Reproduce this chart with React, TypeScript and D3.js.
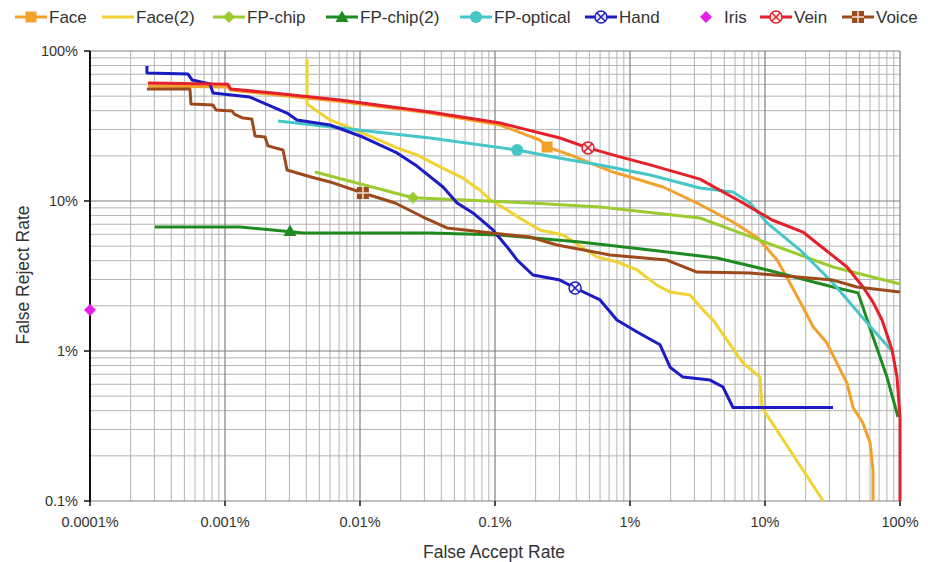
import React from 'react';
import * as d3 from 'd3';

type Pt = [number, number];

// FAR %, FRR %
const face: Pt[] = [[0.00027, 58.4], [0.00105, 57.5], [0.0011, 55], [0.0071, 46], [0.033, 38.6], [0.109, 32.1], [0.215, 25.5], [0.243, 22.9], [0.36, 20.3], [0.75, 15.6], [1.76, 12.4], [3.13, 9.7], [5.79, 7.24], [8.87, 5.67], [12.3, 4.04], [15.3, 2.84], [19.1, 1.96], [22.7, 1.45], [28.8, 1.13], [34.1, 0.83], [40.5, 0.61], [44.9, 0.42], [53.2, 0.33], [60, 0.244], [63.1, 0.161], [63.1, 0.1]];
const face2: Pt[] = [[0.00405, 88.5], [0.00405, 44.3], [0.006, 34.7], [0.0105, 28.4], [0.0188, 22.6], [0.0264, 20.3], [0.0392, 16.9], [0.058, 14.2], [0.0774, 11.8], [0.0918, 10.2], [0.123, 8.7], [0.161, 7.47], [0.215, 6.41], [0.319, 5.93], [0.449, 4.86], [0.57, 4.24], [0.8, 3.92], [1.13, 3.47], [1.58, 2.75], [1.98, 2.47], [2.78, 2.36], [3.47, 1.88], [4.12, 1.61], [5.23, 1.18], [6.88, 0.83], [9.18, 0.67], [9.5, 0.42], [27, 0.1]];
const fpChip: Pt[] = [[0.00464, 15.6], [0.0247, 10.5], [0.182, 9.7], [0.6, 9.12], [3.3, 7.7], [10.4, 5.25], [31.9, 3.63], [100, 2.8]];
const fpChip2: Pt[] = [[0.000303, 6.71], [0.00129, 6.71], [0.00269, 6.31], [0.00378, 6.12], [0.033, 6.12], [0.109, 5.93], [0.427, 5.33], [1.41, 4.71], [4.41, 4.17], [10.4, 3.47], [31.9, 2.67], [48.9, 2.44], [63.1, 1.24], [80.1, 0.67], [96.7, 0.363]];
const fpOptical: Pt[] = [[0.00247, 34.1], [0.033, 26.3], [0.146, 21.9], [0.303, 19.3], [0.6, 17.4], [1.41, 14.9], [3.3, 12.2], [5.79, 11.5], [7.74, 9.7], [10.4, 7.13], [18.2, 4.71], [31.9, 2.84], [57, 1.54], [88.8, 0.98]];
const hand: Pt[] = [[0.000264, 79.4], [0.000264, 71.3], [0.000532, 70.2], [0.00057, 64.1], [0.000774, 60.3], [0.000815, 52.5], [0.00153, 49.3], [0.00227, 42.3], [0.00288, 38.6], [0.00341, 34.7], [0.006, 32.1], [0.0105, 26.7], [0.0188, 20.9], [0.0264, 17.1], [0.0412, 12.4], [0.0524, 9.7], [0.0687, 8.32], [0.0966, 6.41], [0.123, 4.94], [0.146, 4.04], [0.191, 3.21], [0.303, 2.97], [0.392, 2.63], [0.6, 2.19], [0.8, 1.61], [1.13, 1.34], [1.67, 1.1], [1.98, 0.78], [2.47, 0.67], [3.92, 0.64], [4.89, 0.575], [5.79, 0.42], [31.9, 0.42]];
const iris: Pt[] = [[0.0001, 1.88]];
const vein: Pt[] = [[0.000269, 61.2], [0.00105, 60], [0.0011, 55.8], [0.00227, 52.5], [0.00711, 47.1], [0.033, 39.2], [0.109, 33.1], [0.303, 26.3], [0.489, 22.6], [0.843, 19.7], [1.41, 17.4], [3.3, 14], [6.88, 9.7], [11.3, 7.47], [19.1, 6.21], [26.9, 4.86], [40.5, 3.63], [53.2, 2.67], [63.1, 2.12], [73.6, 1.61], [87.3, 1.02], [95, 0.67], [100, 0.363], [100, 0.1]];
const voice: Pt[] = [[0.000264, 55.8], [0.00055, 55.8], [0.00056, 44.3], [0.000815, 43.6], [0.000858, 40.4], [0.00113, 39.8], [0.00117, 38], [0.00136, 35.7], [0.00158, 35.2], [0.00167, 27.1], [0.00198, 26.7], [0.00208, 23.3], [0.00269, 21.9], [0.00288, 16.1], [0.00427, 14.5], [0.006, 13.4], [0.0105, 11.3], [0.0182, 9.7], [0.0293, 7.82], [0.0441, 6.61], [0.0815, 6.21], [0.182, 5.75], [0.288, 5.09], [0.711, 4.37], [1.88, 4.04], [3.13, 3.36], [7.74, 3.31], [31.9, 2.97], [48, 2.67], [100, 2.47]];

// where the one marker of each series sits
const faceMark: Pt = [0.243, 22.9];
const fpChipMark: Pt = [0.0247, 10.5];
const fpChip2Mark: Pt = [0.00303, 6.31];
const fpOpticalMark: Pt = [0.146, 21.9];
const handMark: Pt = [0.392, 2.63];
const irisMark: Pt = [0.0001, 1.88];
const veinMark: Pt = [0.489, 22.6];
const voiceMark: Pt = [0.0105, 11.3];

const xTicks = [0.0001, 0.001, 0.01, 0.1, 1, 10, 100];
const xTickLabels = ['0.0001%', '0.001%', '0.01%', '0.1%', '1%', '10%', '100%'];
const yTicks = [0.1, 1, 10, 100];
const yTickLabels = ['0.1%', '1%', '10%', '100%'];

const series = [
  { name: 'Face', color: '#F4A12C', data: face, marker: 'square', mark: faceMark, line: true },
  { name: 'Face(2)', color: '#F0D232', data: face2, marker: null, mark: null, line: true },
  { name: 'FP-chip', color: '#9CCB30', data: fpChip, marker: 'diamond', mark: fpChipMark, line: true },
  { name: 'FP-chip(2)', color: '#1F8A22', data: fpChip2, marker: 'triangle', mark: fpChip2Mark, line: true },
  { name: 'FP-optical', color: '#46C6C8', data: fpOptical, marker: 'circle', mark: fpOpticalMark, line: true },
  { name: 'Hand', color: '#1C1CC4', data: hand, marker: 'xcircle', mark: handMark, line: true },
  { name: 'Iris', color: '#E61EE6', data: iris, marker: 'diamond', mark: irisMark, line: false },
  { name: 'Vein', color: '#E4202A', data: vein, marker: 'xcircle', mark: veinMark, line: true },
  { name: 'Voice', color: '#9C4A1C', data: voice, marker: 'crossSquare', mark: voiceMark, line: true },
];

const W = 928, H = 562;
const left = 90, right = 900, top = 51, bottom = 501;
const legendX = [15, 102, 213, 326, 460, 585, 690, 760, 842];
const font = '"Liberation Sans", Arial, sans-serif';

function Marker({ type, x, y, color }: { type: string | null; x: number; y: number; color: string }) {
  if (!type) return null;
  if (type === 'square') return <rect x={x - 5.5} y={y - 5.5} width={11} height={11} fill={color} />;
  if (type === 'diamond') return <path d={`M${x},${y - 6}L${x + 6},${y}L${x},${y + 6}L${x - 6},${y}Z`} fill={color} />;
  if (type === 'triangle') return <path d={`M${x},${y - 6.5}L${x + 6.5},${y + 5}L${x - 6.5},${y + 5}Z`} fill={color} />;
  if (type === 'circle') return <circle cx={x} cy={y} r={6} fill={color} />;
  if (type === 'xcircle')
    return (
      <g>
        <circle cx={x} cy={y} r={6} fill="#fff" fillOpacity={0.85} stroke={color} strokeWidth={1.5} />
        <path d={`M${x - 4},${y - 4}L${x + 4},${y + 4}M${x + 4},${y - 4}L${x - 4},${y + 4}`} stroke={color} strokeWidth={1.5} />
      </g>
    );
  if (type === 'crossSquare')
    return (
      <g>
        <rect x={x - 6} y={y - 6} width={12} height={12} fill={color} />
        <path d={`M${x},${y - 6}V${y + 6}M${x - 6},${y}H${x + 6}`} stroke="#f3e0d0" strokeWidth={1.5} />
      </g>
    );
  return null;
}

export default function App() {
  const x = d3.scaleLog().domain([0.0001, 100]).range([left, right]);
  const y = d3.scaleLog().domain([0.1, 100]).range([bottom, top]);
  const line = d3.line<Pt>().x(d => x(d[0])).y(d => y(d[1]));
  const isMajor = (v: number) => Math.abs(Math.log10(v) - Math.round(Math.log10(v))) < 1e-9;

  const xGrid = x.ticks();
  const yGrid = y.ticks();

  return (
    <svg width={W} height={H} style={{ position: 'absolute', left: 0, top: 0, background: '#fff' }} fontFamily={font}>
      <clipPath id="plot">
        <rect x={left - 8} y={top - 8} width={right - left + 16} height={bottom - top + 10} />
      </clipPath>
      {/* gridlines */}
      {yGrid.filter(v => !isMajor(v)).map(v => (
        <line key={'ym' + v} x1={left} x2={right} y1={y(v)} y2={y(v)} stroke="#b4b4b4" strokeWidth={1} />
      ))}
      {xGrid.filter(v => !isMajor(v)).map(v => (
        <line key={'xm' + v} x1={x(v)} x2={x(v)} y1={top} y2={bottom} stroke="#b4b4b4" strokeWidth={1} />
      ))}
      {yGrid.filter(isMajor).map(v => (
        <line key={'yM' + v} x1={left} x2={right} y1={y(v)} y2={y(v)} stroke="#808080" strokeWidth={1.2} />
      ))}
      {xGrid.filter(isMajor).map(v => (
        <line key={'xM' + v} x1={x(v)} x2={x(v)} y1={top} y2={bottom} stroke="#808080" strokeWidth={1.2} />
      ))}
      {/* axes */}
      <line x1={left} x2={left} y1={top} y2={bottom + 1} stroke="#111" strokeWidth={2} />
      {yTicks.map(v => (
        <line key={'yt' + v} x1={left - 6} x2={left} y1={y(v)} y2={y(v)} stroke="#111" strokeWidth={1.5} />
      ))}
      {xTicks.map(v => (
        <line key={'xt' + v} x1={x(v)} x2={x(v)} y1={bottom} y2={bottom + 5} stroke="#111" strokeWidth={1.5} />
      ))}
      {yTicks.map((v, i) => (
        <text key={'yl' + v} x={left - 12} y={y(v) + 5} textAnchor="end" fontSize={14.5} fill="#333">{yTickLabels[i]}</text>
      ))}
      {xTicks.map((v, i) => (
        <text key={'xl' + v} x={x(v)} y={527} textAnchor="middle" fontSize={14.5} fill="#333">{xTickLabels[i]}</text>
      ))}
      <text x={494} y={558} textAnchor="middle" fontSize={17.5} fill="#333">False Accept Rate</text>
      <text transform="translate(29,275) rotate(-90)" textAnchor="middle" fontSize={17.5} fill="#333">False Reject Rate</text>

      {/* series */}
      <g clipPath="url(#plot)">
        {series.filter(s => s.line).map(s => (
          <path key={s.name} d={line(s.data) || ''} fill="none" stroke={s.color} strokeWidth={3} strokeLinejoin="round" />
        ))}
        {series.map(s => s.mark ? (
          <Marker key={'m' + s.name} type={s.marker} x={x(s.mark[0])} y={y(s.mark[1])} color={s.color} />
        ) : null)}
      </g>

      {/* legend */}
      {series.map((s, i) => {
        const lx = legendX[i];
        return (
          <g key={'lg' + s.name}>
            {s.line && <line x1={lx} x2={lx + 32} y1={17} y2={17} stroke={s.color} strokeWidth={3} />}
            <Marker type={s.marker} x={lx + 16} y={17} color={s.color} />
            <text x={lx + 34} y={23} fontSize={17} fill="#333">{s.name}</text>
          </g>
        );
      })}
    </svg>
  );
}
